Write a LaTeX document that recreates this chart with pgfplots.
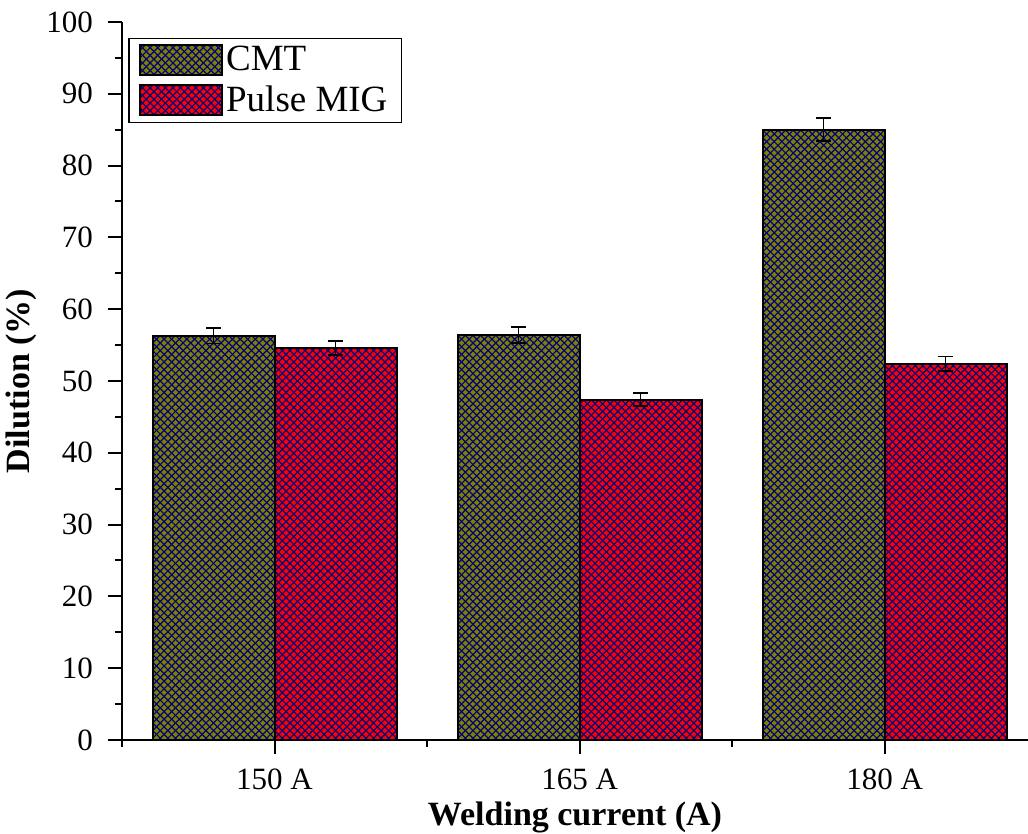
\documentclass[border=0pt]{standalone}
\usepackage{fontspec}
\setmainfont{Liberation Serif}
\usepackage{pgfplots}
\pgfplotsset{compat=1.18}
\definecolor{cmtol}{RGB}{128,128,0}
\definecolor{mig}{RGB}{255,0,0}
\definecolor{hatch}{RGB}{0,0,128}
\makeatletter
\newcommand\xhatchdraw{%
  \pgfpointanchor{path picture bounding box}{south west}%
  \ifdim\pgf@x<10000pt
    \ifdim\pgf@x>-10000pt
      \foreach \i in {-320,-316.2,...,70} {%
        \pgfsetstrokecolor{hatch}\pgfsetlinewidth{0.6pt}%
        \pgfpathmoveto{\pgfpointadd{\pgfpointanchor{path picture bounding box}{south west}}{\pgfpoint{\i pt}{0pt}}}%
        \pgfpathlineto{\pgfpointadd{\pgfpointanchor{path picture bounding box}{south west}}{\pgfpoint{\i pt+330pt}{330pt}}}%
        \pgfpathmoveto{\pgfpointadd{\pgfpointanchor{path picture bounding box}{south east}}{\pgfpoint{-\i pt}{0pt}}}%
        \pgfpathlineto{\pgfpointadd{\pgfpointanchor{path picture bounding box}{south east}}{\pgfpoint{-\i pt-330pt}{330pt}}}%
        \pgfusepath{stroke}%
      }%
    \fi
  \fi}
\makeatother
\pgfplotsset{
  hatchbar/.style={forget plot,mark=none,draw=black,line width=1pt,path picture={\xhatchdraw}}
}
\begin{document}
\begin{tikzpicture}
\begin{axis}[
  scale only axis,
  width=453pt, height=359pt,
  axis x line*=bottom, axis y line*=left,
  axis line style={line width=1pt},
  ymin=0, ymax=100,
  xmin=-0.5, xmax=2.47,
  ytick={0,10,...,100},
  minor ytick={5,15,...,95},
  xtick={0,1,2},
  xticklabels={150 A,165 A,180 A},
  minor xtick={-0.5,0.5,1.5,2.5},
  tick align=outside,
  major tick length=7pt, minor tick length=3.5pt,
  tick style={line width=1pt,black},
  /pgf/number format/assume math mode=true,
  ticklabel style={font=\fontsize{15.5}{18}\selectfont},
  xticklabel style={yshift=-4pt},
  yticklabel style={xshift=-4pt},
  xlabel={\textbf{Welding current (A)}},
  ylabel={\textbf{Dilution (\%)}},
  xlabel style={font=\fontsize{17}{20}\selectfont,yshift=1pt},
  ylabel style={font=\fontsize{17}{20}\selectfont,yshift=-2pt},
  legend style={at={(0.007,0.978)},anchor=north west,draw=black,line width=0.6pt,
    font=\fontsize{18.5}{21}\selectfont,inner xsep=5pt,inner ysep=2pt,row sep=2pt,
    cells={anchor=west}},
  error bars/error bar style={line width=0.8pt,draw=black},
  error bars/error mark options={rotate=90,mark size=3.7pt,line width=0.8pt,draw=black},
]
% bars (data)
\addplot[ybar,bar width=0.4,fill=cmtol,draw=black,line width=1pt,bar shift=-0.2,
  legend image code/.code={\draw[fill=cmtol,draw=black,line width=1pt,path picture={\xhatchdraw}] (0pt,-7.5pt) rectangle (41pt,7.5pt);}]
  coordinates {(0,56.3) (1,56.4) (2,85.0)};
\addlegendentry{CMT}
\addplot[ybar,bar width=0.4,fill=mig,draw=black,line width=1pt,bar shift=0.2,
  legend image code/.code={\draw[fill=mig,draw=black,line width=1pt,path picture={\xhatchdraw}] (0pt,-7.5pt) rectangle (41pt,7.5pt);}]
  coordinates {(0,54.6) (1,47.4) (2,52.4)};
\addlegendentry{Pulse MIG}
% cross-hatch of each bar (same values)
\addplot[hatchbar] coordinates {(-0.4,0) (-0.4,56.3) (0,56.3) (0,0) (-0.4,0)};
\addplot[hatchbar] coordinates {(0.6,0) (0.6,56.4) (1,56.4) (1,0) (0.6,0)};
\addplot[hatchbar] coordinates {(1.6,0) (1.6,85.0) (2,85.0) (2,0) (1.6,0)};
\addplot[hatchbar] coordinates {(0,0) (0,54.6) (0.4,54.6) (0.4,0) (0,0)};
\addplot[hatchbar] coordinates {(1,0) (1,47.4) (1.4,47.4) (1.4,0) (1,0)};
\addplot[hatchbar] coordinates {(2,0) (2,52.4) (2.4,52.4) (2.4,0) (2,0)};
% error bars
\addplot[forget plot,draw=none,mark=none,error bars/.cd,y dir=both,y explicit]
  coordinates {(-0.2,56.3)+-(0,1.1) (0.8,56.4)+-(0,1.1) (1.8,85.0)+-(0,1.6)};
\addplot[forget plot,draw=none,mark=none,error bars/.cd,y dir=both,y explicit]
  coordinates {(0.2,54.6)+-(0,1.0) (1.2,47.4)+-(0,0.9) (2.2,52.4)+-(0,1.0)};
\end{axis}
\pgfresetboundingbox
\path[use as bounding box] (current axis.south west) ++(-61pt,-47pt) rectangle ++(514pt,417pt);
\end{tikzpicture}
\end{document}
